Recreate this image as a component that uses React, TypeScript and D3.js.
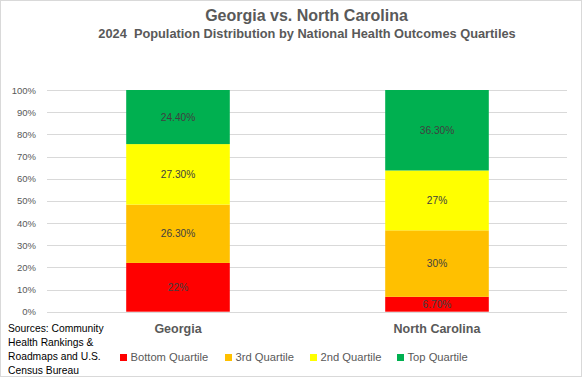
import React from "react";
import * as d3 from "d3";

const categories = ["Georgia", "North Carolina"];
const seriesNames = ["Bottom Quartile", "3rd Quartile", "2nd Quartile", "Top Quartile"];
const seriesColors = ["#FF0000", "#FFC000", "#FFFF00", "#00B050"];
const bottomQuartile = [22, 6.7];
const thirdQuartile = [26.3, 30];
const secondQuartile = [27.3, 27];
const topQuartile = [24.4, 36.3];
const labelTexts = [
  ["22%", "6.70%"],
  ["26.30%", "30%"],
  ["27.30%", "27%"],
  ["24.40%", "36.30%"],
];
const yTicks = [0, 10, 20, 30, 40, 50, 60, 70, 80, 90, 100];
const sourceLines = ["Sources: Community", "Health Rankings &", "Roadmaps and U.S.", "Census Bureau"];

const W = 582;
const H = 377;
const font = "'Liberation Sans', Arial, sans-serif";

export default function App() {
  const series = [bottomQuartile, thirdQuartile, secondQuartile, topQuartile];
  const rows = categories.map((c, i) => {
    const r: any = { cat: c };
    seriesNames.forEach((s, j) => (r[s] = series[j][i]));
    return r;
  });
  const stacked = d3.stack<any>().keys(seriesNames)(rows);

  const x = d3.scaleBand().domain(categories).range([48.5, 566.5]).paddingInner(0.6).paddingOuter(0.3);
  const y = d3.scaleLinear().domain([0, 100]).range([311.7, 90]);

  const legendX = [120, 225, 310, 397];

  return (
    <div style={{ position: "absolute", left: 0, top: 0 }}>
      <svg width={W} height={H} style={{ display: "block", fontFamily: font }}>
        <rect x={0.5} y={0.5} width={W - 1} height={H - 1} fill="#fff" stroke="#D9D9D9" />
        <text x={306.5} y={21} textAnchor="middle" fontSize={16} fontWeight="bold" fill="#595959">
          Georgia vs. North Carolina
        </text>
        <text x={307} y={38} textAnchor="middle" fontSize={12.8} fontWeight="bold" fill="#595959">
          {"2024\u00a0 Population Distribution by National Health Outcomes Quartiles"}
        </text>
        {yTicks.map((t) => (
          <g key={t}>
            <line x1={47} x2={567} y1={Math.round(y(t)) + 0.5} y2={Math.round(y(t)) + 0.5} stroke="#D9D9D9" />
            <text x={36} y={y(t) + 3.5} textAnchor="end" fontSize={9.5} fill="#595959">
              {t}%
            </text>
          </g>
        ))}
        {stacked.map((s, j) => (
          <g key={s.key}>
            {s.map((d, i) => (
              <g key={i}>
                <rect
                  x={x(categories[i])!}
                  width={x.bandwidth()}
                  y={y(d[1])}
                  height={y(d[0]) - y(d[1])}
                  fill={seriesColors[j]}
                />
                <text
                  x={x(categories[i])! + x.bandwidth() / 2}
                  y={(y(d[0]) + y(d[1])) / 2 + 3.7}
                  textAnchor="middle"
                  fontSize={10.2}
                  fill="#404040"
                >
                  {labelTexts[j][i]}
                </text>
              </g>
            ))}
          </g>
        ))}
        {categories.map((c) => (
          <text key={c} x={x(c)! + x.bandwidth() / 2} y={333} textAnchor="middle" fontSize={12.5} fontWeight="bold" fill="#595959">
            {c}
          </text>
        ))}
        {sourceLines.map((l, i) => (
          <text key={i} x={8} y={332 + i * 14} fontSize={10.3} fill="#000">
            {l}
          </text>
        ))}
        {seriesNames.map((s, j) => (
          <g key={s}>
            <rect x={legendX[j]} y={354} width={7} height={7} fill={seriesColors[j]} />
            <text x={legendX[j] + 10.5} y={361} fontSize={11.2} fill="#595959">
              {s}
            </text>
          </g>
        ))}
      </svg>
    </div>
  );
}
